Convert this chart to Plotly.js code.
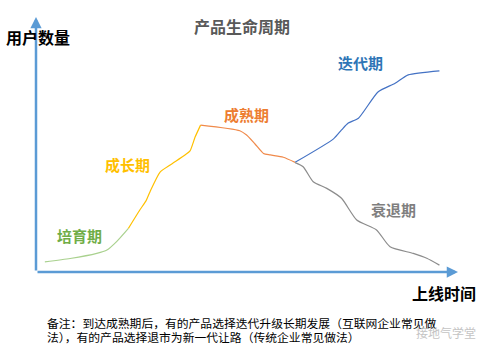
<!DOCTYPE html>
<html>
<head>
<meta charset="utf-8">
<script src="https://cdn.plot.ly/plotly-3.0.1.min.js"></script>
<style>html,body{margin:0;padding:0;background:#fff;}#chart{width:490px;height:355px;}</style>
</head>
<body>
<div id="chart"></div>
<script>
// 上线时间 (0-100) vs 用户数量 (0-100)
const stageNames = ["培育期", "成长期", "成熟期", "迭代期", "衰退期"];
const incubT = [2.1, 8.1, 14.4, 16.8, 19.1, 21.9];
const incubU = [4.0, 5.3, 7.3, 8.6, 11.9, 17.1];
const growthT = [21.9, 24.6, 26.1, 27.0, 29.4, 31.8, 35.3, 36.5, 37.7, 39.0];
const growthU = [17.1, 24.3, 28.0, 31.4, 39.2, 42.0, 45.9, 47.5, 52.9, 57.6];
const matureT = [39.0, 48.3, 49.9, 51.9, 53.9, 55.5, 58.6, 61.4];
const matureU = [57.6, 55.4, 53.7, 50.2, 46.5, 45.9, 45.0, 43.0];
const iterT = [61.4, 70.5, 72.4, 74.0, 76.4, 81.1, 85.1, 88.2, 95.6];
const iterU = [43.0, 52.2, 55.7, 58.4, 60.3, 70.7, 74.0, 77.3, 78.9];
const declineT = [61.4, 63.3, 65.7, 68.9, 72.4, 76.0, 80.7, 83.9, 89.4, 92.6, 95.6];
const declineU = [42.9, 41.3, 35.4, 32.8, 28.9, 20.4, 16.5, 9.9, 7.3, 5.4, 2.7];
const titleText = "产品生命周期";
const yLabel = "用户数量";
const xLabel = "上线时间";
const noteLines = [
  "备注：到达成熟期后，有的产品选择迭代升级长期发展（互联网企业常见做",
  "法），有的产品选择退市为新一代让路（传统企业常见做法）"
];
const watermark = "接地气学堂";

const CJK = '"Noto Sans CJK SC", "Microsoft YaHei", sans-serif';
const colors = ["#a9d18e", "#ffc000", "#f08a4b", "#4472c4", "#8c8c8c"];
const labelColors = ["#70ad47", "#ffc000", "#ed7d31", "#2e75b6", "#7f7f7f"];

const series = [[incubT, incubU], [growthT, growthU], [matureT, matureU], [iterT, iterU], [declineT, declineU]];
const traces = series.map((s, i) => ({
  x: s[0], y: s[1], type: "scatter", mode: "lines", name: stageNames[i],
  line: {color: colors[i], width: 1.2, shape: "spline", smoothing: 0.6},
  hoverinfo: "skip"
}));

const labelPos = [[10.4, 14.5], [21.6, 42.0], [49.8, 61.6], [76.8, 82.0], [84.6, 24.7]];
const annotations = stageNames.map((n, i) => ({
  x: labelPos[i][0], y: labelPos[i][1], xref: "x", yref: "y", xanchor: "center", yanchor: "middle",
  text: "<b>" + n + "</b>",
  showarrow: false, font: {family: CJK, size: 15, color: labelColors[i]}
}));

// axes with arrows
annotations.push({x: 1, y: 0, xref: "paper", yref: "paper", ax: -422, ay: 0, text: "",
  showarrow: true, arrowhead: 2, arrowsize: 0.9, arrowwidth: 2.5, arrowcolor: "#5b9bd5", standoff: 0});
annotations.push({x: 0, y: 1, xref: "paper", yref: "paper", ax: 0, ay: 255, text: "",
  showarrow: true, arrowhead: 2, arrowsize: 0.9, arrowwidth: 2.5, arrowcolor: "#5b9bd5", standoff: 0});

annotations.push({x: 0.0047, y: 0.92, xref: "paper", yref: "paper", xanchor: "center", yanchor: "middle",
  text: "<b>" + yLabel + "</b>", showarrow: false, font: {family: CJK, size: 16, color: "#000"}});
annotations.push({x: 0.967, y: -0.082, xref: "paper", yref: "paper", xanchor: "center", yanchor: "middle",
  text: "<b>" + xLabel + "</b>", showarrow: false, font: {family: CJK, size: 16, color: "#000"}});
noteLines.forEach((t, i) => annotations.push({
  x: 0.0213, y: i === 0 ? -0.197 : -0.254, xref: "paper", yref: "paper", xanchor: "left", yanchor: "middle",
  text: t, showarrow: false, font: {family: CJK, size: 11.8, color: "#000"}
}));
annotations.push({x: 0.972, y: -0.239, xref: "paper", yref: "paper", xanchor: "center", yanchor: "middle",
  text: watermark, showarrow: false, font: {family: CJK, size: 12, color: "#c4c4c4"}});

const layout = {
  width: 490, height: 355,
  margin: {l: 36, r: 32, t: 17, b: 83},
  paper_bgcolor: "#fff", plot_bgcolor: "#fff",
  showlegend: false,
  title: {text: "<b>" + titleText + "</b>", x: 0.494, y: 0.924, xanchor: "center", yanchor: "middle",
    xref: "container", font: {family: CJK, size: 16, color: "#595959"}},
  xaxis: {range: [0, 100], visible: false, fixedrange: true},
  yaxis: {range: [0, 100], visible: false, fixedrange: true},
  annotations: annotations
};

Plotly.newPlot("chart", traces, layout, {displayModeBar: false, staticPlot: true});
</script>
</body>
</html>
